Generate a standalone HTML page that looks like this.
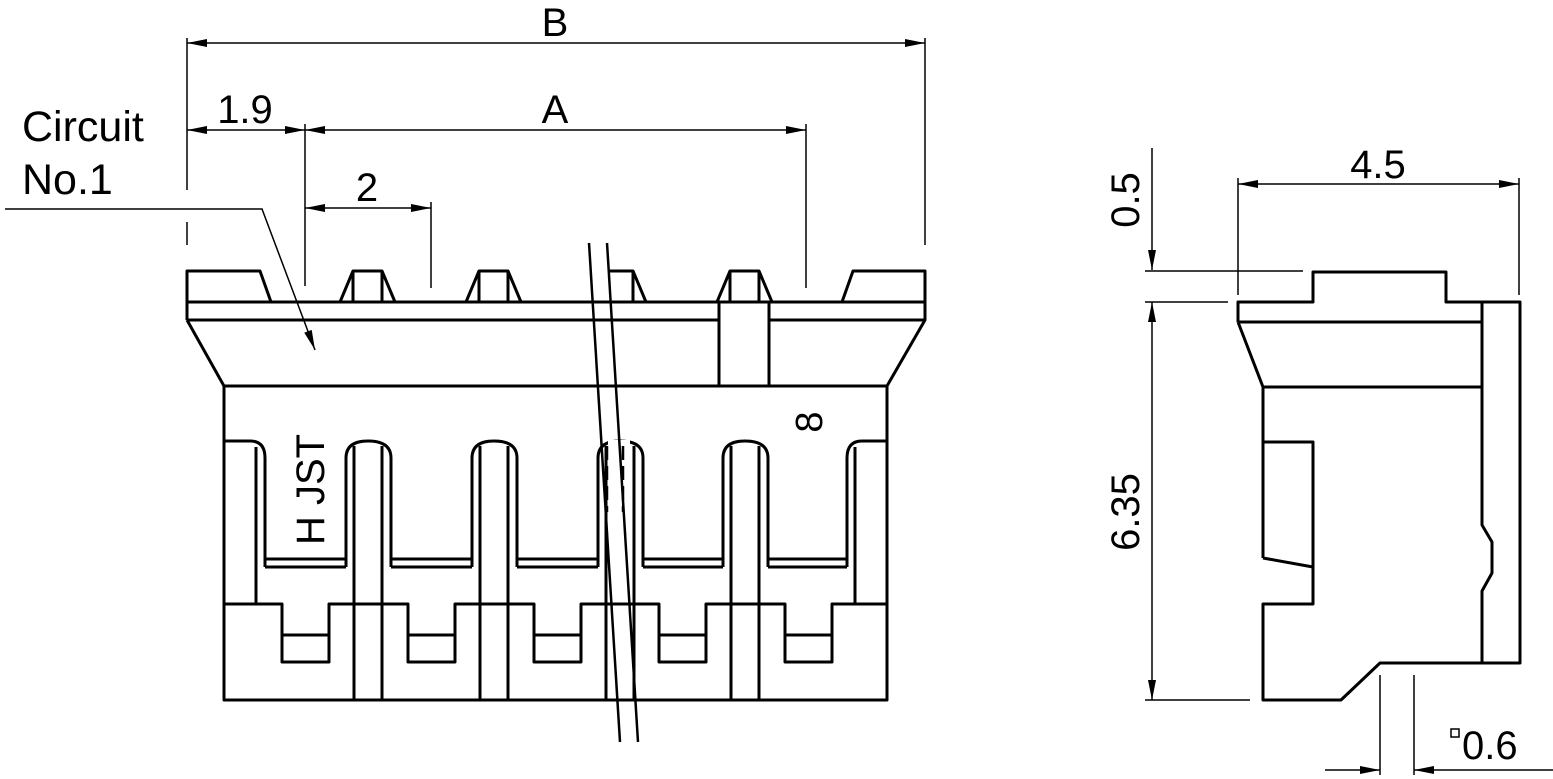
<!DOCTYPE html>
<html><head><meta charset="utf-8"><style>
html,body{margin:0;padding:0;background:#fff;}
svg{display:block;}
text{font-family:"Liberation Sans",sans-serif;fill:#000;}
</style></head><body>
<svg width="1553" height="779" viewBox="0 0 1553 779" xmlns="http://www.w3.org/2000/svg">
<defs>
<marker id="ar" viewBox="0 0 20 8" refX="20" refY="4" markerWidth="20" markerHeight="8" markerUnits="userSpaceOnUse" orient="auto-start-reverse">
<path d="M0,0 L20,4 L0,8 z" fill="#000"/>
</marker>
</defs>
<g stroke="#000" stroke-width="1.5" fill="none">
<line x1="187" y1="38" x2="187" y2="190"/>
<line x1="187" y1="222" x2="187" y2="245"/>
<line x1="925" y1="38" x2="925" y2="245"/>
<line x1="187" y1="43" x2="925" y2="43" marker-start="url(#ar)" marker-end="url(#ar)"/>
<line x1="305" y1="124" x2="305" y2="286"/>
<line x1="806" y1="124" x2="806" y2="288"/>
<line x1="187" y1="130" x2="305" y2="130" marker-start="url(#ar)" marker-end="url(#ar)"/>
<line x1="305" y1="130" x2="806" y2="130" marker-start="url(#ar)" marker-end="url(#ar)"/>
<line x1="431" y1="202" x2="431" y2="288"/>
<line x1="305" y1="208" x2="431" y2="208" marker-start="url(#ar)" marker-end="url(#ar)"/>
<polyline points="5,209 262,209 315,350" marker-end="url(#ar)"/>
<line x1="1152" y1="148" x2="1152" y2="270" marker-end="url(#ar)"/>
<line x1="1145" y1="271" x2="1303" y2="271"/>
<line x1="1145" y1="302" x2="1228" y2="302"/>
<line x1="1152" y1="302" x2="1152" y2="700" marker-start="url(#ar)" marker-end="url(#ar)"/>
<line x1="1145" y1="700" x2="1250" y2="700"/>
<line x1="1238" y1="178" x2="1238" y2="295"/>
<line x1="1519" y1="178" x2="1519" y2="295"/>
<line x1="1238" y1="184" x2="1519" y2="184" marker-start="url(#ar)" marker-end="url(#ar)"/>
<line x1="1380" y1="675" x2="1380" y2="775"/>
<line x1="1414" y1="675" x2="1414" y2="775"/>
<line x1="1325" y1="770" x2="1380" y2="770" marker-end="url(#ar)"/>
<line x1="1553" y1="770" x2="1414" y2="770" marker-end="url(#ar)"/>
<rect x="1451" y="729" width="8" height="8" stroke-width="1.5"/>
</g>
<g stroke="#000" stroke-width="3" fill="none" stroke-linejoin="round">
<polyline points="187,320 187,271 260,271 271,302"/>
<line x1="187" y1="302" x2="925" y2="302"/>
<line x1="187" y1="320" x2="719" y2="320"/>
<line x1="769" y1="320" x2="925" y2="320"/>
<polyline points="187,320 224,386 224,700 887,700 887,386 925,320 925,271 853,271 842,302"/>
<line x1="224" y1="386" x2="887" y2="386"/>
<line x1="719" y1="302" x2="719" y2="386"/>
<line x1="769" y1="302" x2="769" y2="386"/>
<polyline points="340,302 353,271 382,271 395,302"/><line x1="353" y1="271" x2="353" y2="302"/><line x1="382" y1="271" x2="382" y2="302"/>
<polyline points="466,302 479,271 508,271 521,302"/><line x1="479" y1="271" x2="479" y2="302"/><line x1="508" y1="271" x2="508" y2="302"/>
<polyline points="610,271 633,271 646,302"/><line x1="633" y1="271" x2="633" y2="302"/>
<polyline points="717,302 730,271 759,271 772,302"/><line x1="730" y1="271" x2="730" y2="302"/><line x1="759" y1="271" x2="759" y2="302"/>
<path d="M224,441 H250 Q265,441 265,458 V567"/>
<line x1="256" y1="447" x2="256" y2="604"/>
<path d="M887,441 H862 Q847,441 847,458 V567"/>
<line x1="855" y1="447" x2="855" y2="604"/>
<path d="M346,567 V458 Q346,441 368,441 Q391,441 391,458 V567"/>
<path d="M472,567 V458 Q472,441 494,441 Q517,441 517,458 V567"/>
<path d="M598,567 V458 Q598,441 620,441 Q643,441 643,458 V567"/>
<path d="M723,567 V458 Q723,441 745,441 Q768,441 768,458 V567"/>
<line x1="354" y1="446" x2="354" y2="700"/><line x1="382" y1="446" x2="382" y2="700"/>
<line x1="480" y1="446" x2="480" y2="700"/><line x1="508" y1="446" x2="508" y2="700"/>
<line x1="606" y1="446" x2="606" y2="700"/><line x1="634" y1="446" x2="634" y2="700"/>
<line x1="731" y1="446" x2="731" y2="700"/><line x1="759" y1="446" x2="759" y2="700"/>
<line x1="265" y1="559" x2="346" y2="559"/><line x1="265" y1="567" x2="346" y2="567"/>
<line x1="391" y1="559" x2="472" y2="559"/><line x1="391" y1="567" x2="472" y2="567"/>
<line x1="517" y1="559" x2="598" y2="559"/><line x1="517" y1="567" x2="598" y2="567"/>
<line x1="643" y1="559" x2="723" y2="559"/><line x1="643" y1="567" x2="723" y2="567"/>
<line x1="768" y1="559" x2="847" y2="559"/><line x1="768" y1="567" x2="847" y2="567"/>
<polyline points="224,604 282,604 282,662 329,662 329,604 408,604 408,662 455,662 455,604 534,604 534,662 581,662 581,604 659,604 659,662 706,662 706,604 785,604 785,662 832,662 832,604 887,604"/>
<line x1="282" y1="635" x2="329" y2="635"/><line x1="408" y1="635" x2="455" y2="635"/>
<line x1="534" y1="635" x2="581" y2="635"/><line x1="659" y1="635" x2="706" y2="635"/>
<line x1="785" y1="635" x2="832" y2="635"/>
</g>
<rect x="608" y="440" width="22" height="70" fill="#fff"/>
<g stroke="#000" stroke-width="2.5">
<line x1="589" y1="243" x2="620" y2="742"/>
<line x1="607" y1="243" x2="638" y2="742"/>
<line x1="607" y1="446" x2="607" y2="512" stroke-dasharray="14,6"/>
<line x1="623" y1="446" x2="623" y2="512" stroke-dasharray="14,6"/>
</g>
<g stroke="#000" stroke-width="3" fill="none" stroke-linejoin="round">
<polyline points="1238,322 1238,302 1313,302 1313,272 1446,272 1446,302 1520,302 1520,663 1380,663 1341,700 1263,700 1263,604 1313,604 1313,442 1263,442 1263,387 1238,322"/>
<polyline points="1313,567 1263,558"/>
<line x1="1263" y1="442" x2="1263" y2="558"/>
<line x1="1238" y1="322" x2="1482" y2="322"/>
<line x1="1263" y1="387" x2="1482" y2="387"/>
<polyline points="1482,302 1482,525 1492,542 1492,573 1482,591 1482,663"/>
</g>
<text x="555" y="36" font-size="40" text-anchor="middle">B</text>
<text x="245" y="123" font-size="40" text-anchor="middle">1.9</text>
<text x="555" y="123" font-size="40" text-anchor="middle">A</text>
<text x="367" y="201" font-size="40" text-anchor="middle">2</text>
<text x="22" y="141" font-size="43">Circuit</text>
<text x="22" y="194" font-size="43">No.1</text>
<text transform="translate(324,545) rotate(-90)" font-size="40">H  JST</text>
<text transform="translate(822,422) rotate(-90)" font-size="38" text-anchor="middle">8</text>
<text x="1378" y="178" font-size="40" text-anchor="middle">4.5</text>
<text transform="translate(1139,200) rotate(-90)" font-size="40" text-anchor="middle">0.5</text>
<text transform="translate(1139,512) rotate(-90)" font-size="40" text-anchor="middle">6.35</text>
<text x="1462" y="759" font-size="40">0.6</text>
</svg>
</body></html>
